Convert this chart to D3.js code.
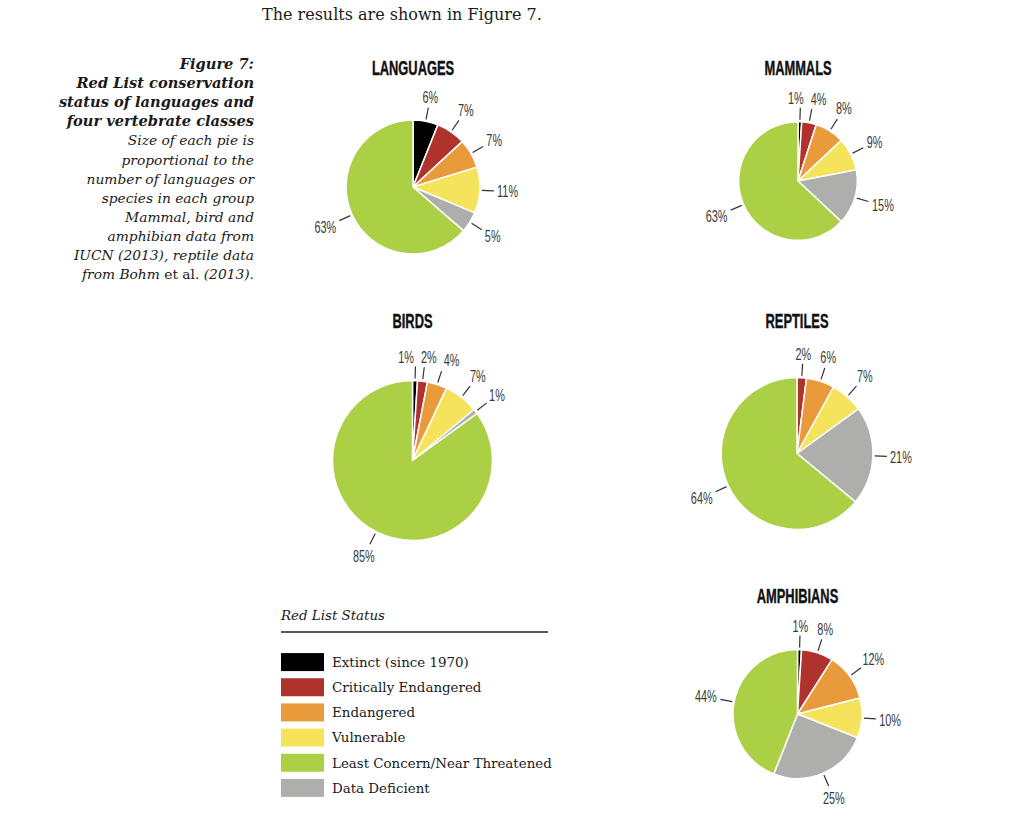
<!DOCTYPE html>
<html><head><meta charset="utf-8">
<script src="https://cdn.jsdelivr.net/npm/d3@7"></script>
<style>
html,body{margin:0;padding:0;background:#fff;}
svg{display:block;}
</style></head>
<body>
<script>
// ---- data ----
const statuses = ["Extinct (since 1970)", "Critically Endangered", "Endangered", "Vulnerable", "Least Concern/Near Threatened", "Data Deficient"];
const statusColors = ["#000000", "#b0322c", "#e99a3a", "#f5e35c", "#abd046", "#aeafad"];
// pie slice order (clockwise from 12 o'clock)
const pieOrder = ["Extinct (since 1970)", "Critically Endangered", "Endangered", "Vulnerable", "Data Deficient", "Least Concern/Near Threatened"];
const groups = ["LANGUAGES", "MAMMALS", "BIRDS", "REPTILES", "AMPHIBIANS"];
// approximate number of languages / species per group (pie area)
const groupSizes = [7000, 5500, 10000, 9000, 6500];
// percentages in pieOrder
const languages  = [6, 7, 7, 11, 5, 63];
const mammals    = [1, 4, 8, 9, 15, 63];
const birds      = [1, 2, 4, 7, 1, 85];
const reptiles   = [0, 2, 6, 7, 21, 64];
const amphibians = [1, 8, 12, 10, 25, 44];
const groupValues = [languages, mammals, birds, reptiles, amphibians];

const captionBold = ["Figure 7:", "Red List conservation", "status of languages and", "four vertebrate classes"];
const captionItalic = ["Size of each pie is", "proportional to the", "number of languages or", "species in each group", "Mammal, bird and", "amphibian data from", "IUCN (2013), reptile data"];
const introText = "The results are shown in Figure 7.";
const legendTitle = "Red List Status";

// ---- layout ----
const W = 1024, H = 816;
const svg = d3.select("body").append("svg").attr("width", W).attr("height", H);
const serif = "'DejaVu Serif', Georgia, serif";
const sans = "'Liberation Sans', Arial, sans-serif";

const color = d3.scaleOrdinal().domain(statuses).range(statusColors);
const rScale = d3.scaleSqrt().domain([0, 10000]).range([0, 80]);
const centers = [[413, 187], [798, 181], [412.5, 460.5], [797, 453.5], [797.5, 714]];
const titleY = [75, 75, 328, 328, 603];

// intro line
svg.append("text").attr("x", 262).attr("y", 20)
  .attr("font-family", serif).attr("font-size", 16).attr("fill", "#1a1a1a")
  .text(introText);

// caption
const capX = 254;
const capG = svg.append("g").attr("font-family", serif).attr("fill", "#1a1a1a").attr("text-anchor", "end");
captionBold.forEach((t, i) => {
  capG.append("text").attr("x", capX).attr("y", 69 + i * 19.1)
    .attr("font-size", 14.6).attr("font-weight", "bold").attr("font-style", "italic").text(t);
});
captionItalic.forEach((t, i) => {
  capG.append("text").attr("x", capX).attr("y", 69 + (i + 4) * 19.1)
    .attr("font-size", 13.8).attr("font-style", "italic").text(t);
});
{
  const last = capG.append("text").attr("x", capX).attr("y", 69 + 11 * 19.1).attr("font-size", 13.8);
  last.append("tspan").attr("font-style", "italic").text("from Bohm ");
  last.append("tspan").text("et al. ");
  last.append("tspan").attr("font-style", "italic").text("(2013).");
}

// pies
const pie = d3.pie().sort(null).value(d => d.v);
const arc = d3.arc().innerRadius(0);

groups.forEach((g, gi) => {
  const [cx, cy] = centers[gi];
  const r = rScale(groupSizes[gi]);
  const data = pieOrder.map((s, i) => ({status: s, v: groupValues[gi][i]}));
  const arcs = pie(data);
  const G = svg.append("g").attr("transform", `translate(${cx},${cy})`);

  // title
  svg.append("text")
    .attr("transform", `translate(${cx},${titleY[gi]}) scale(0.66,1)`)
    .attr("text-anchor", "middle").attr("font-family", sans).attr("font-weight", "bold")
    .attr("font-size", 19.5).attr("fill", "#111").attr("stroke", "#111").attr("stroke-width", 0.4)
    .text(g);

  G.selectAll("path.slice").data(arcs.filter(a => a.data.v > 0)).join("path")
    .attr("class", "slice")
    .attr("d", d => arc.outerRadius(r)(d))
    .attr("fill", d => color(d.data.status))
    .attr("stroke", "#fff").attr("stroke-width", 1.5).attr("stroke-linejoin", "round");

  // labels
  const labs = arcs.filter(a => a.data.v > 0).map(a => {
    const ang = (a.startAngle + a.endAngle) / 2;
    const sx = Math.sin(ang), sy = -Math.cos(ang);
    return {a, ang, sx, sy, text: a.data.v + "%"};
  });
  const scaleX = 0.68, fs = 16;
  labs.forEach(l => {
    const t = svg.append("text").attr("font-family", sans).attr("font-size", fs).text(l.text);
    l.w = t.node().getComputedTextLength() * scaleX;
    t.remove();
    l.h = 12;
    const half = Math.abs(l.sx) * l.w / 2 + Math.abs(l.sy) * l.h / 2;
    const d = r + 14 + 3 + half;
    l.x = l.sx * d; l.y = l.sy * d;
  });
  // simple collision relaxation
  for (let it = 0; it < 30; it++) {
    for (let i = 0; i < labs.length; i++) for (let j = i + 1; j < labs.length; j++) {
      const A = labs[i], B = labs[j];
      const ox = (A.w + B.w) / 2 + 7 - Math.abs(A.x - B.x);
      const oy = (A.h + B.h) / 2 + 1 - Math.abs(A.y - B.y);
      if (ox > 0 && oy > 0) {
        const s = A.x <= B.x ? -1 : 1;
        A.x += s * ox / 2; B.x -= s * ox / 2;
      }
    }
  }
  labs.forEach(l => {
    G.append("line")
      .attr("x1", l.sx * (r + 2)).attr("y1", l.sy * (r + 2))
      .attr("x2", l.sx * (r + 14)).attr("y2", l.sy * (r + 14))
      .attr("stroke", "#333").attr("stroke-width", 1.2);
    G.append("text")
      .attr("transform", `translate(${l.x},${l.y}) scale(${scaleX},1)`)
      .attr("text-anchor", "middle").attr("dy", "0.36em")
      .attr("font-family", sans).attr("font-size", fs).attr("fill", "#3a3a3a")
      .text(l.text);
  });
});

// legend
const legOrder = ["Extinct (since 1970)", "Critically Endangered", "Endangered", "Vulnerable", "Least Concern/Near Threatened", "Data Deficient"];
svg.append("text").attr("x", 281).attr("y", 620)
  .attr("font-family", serif).attr("font-style", "italic").attr("font-size", 13.4).attr("fill", "#1a1a1a")
  .text(legendTitle);
svg.append("line").attr("x1", 281).attr("x2", 548).attr("y1", 632).attr("y2", 632)
  .attr("stroke", "#222").attr("stroke-width", 1.5);
const legY = d3.scaleBand().domain(legOrder).range([649.5, 800.5]);
const lg = svg.append("g");
legOrder.forEach(s => {
  const y = legY(s) + legY.bandwidth() / 2;
  lg.append("rect").attr("x", 281).attr("y", y - 9).attr("width", 43).attr("height", 18)
    .attr("fill", color(s));
  lg.append("text").attr("x", 332).attr("y", y).attr("dy", "0.36em")
    .attr("font-family", serif).attr("font-size", 13.4).attr("fill", "#1a1a1a").text(s);
});
</script>
</body></html>
